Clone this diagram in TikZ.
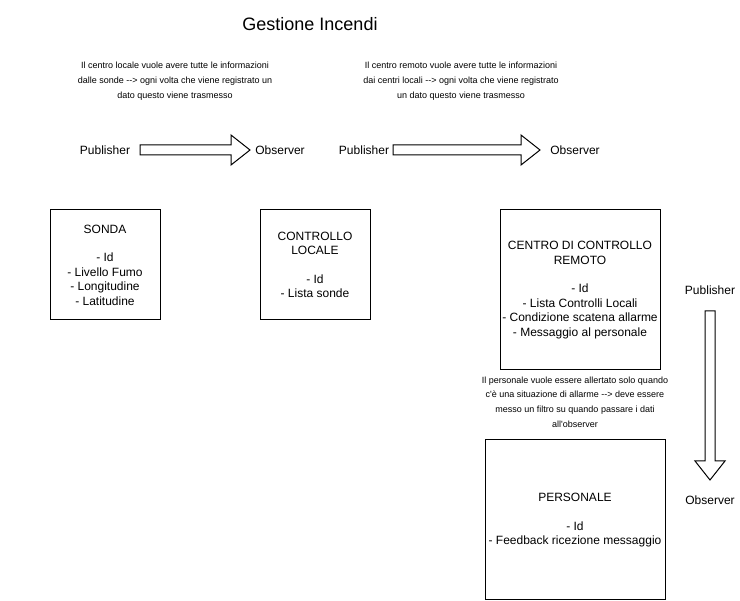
\documentclass[tikz,border=0pt]{standalone}
\usepackage{fontspec}
\setmainfont{Liberation Sans}[Ligatures=TeXOff]
\usetikzlibrary{calc}

\tikzset{
  box/.style={draw,line width=1pt,align=center,inner sep=0pt,font=\fontsize{12}{14.4}\selectfont},
  lbl/.style={inner sep=0pt,font=\fontsize{12}{14.4}\selectfont},
  note/.style={align=center,inner sep=0pt,font=\fontsize{9}{14.8}\selectfont},
  flex/.style={line width=1pt,line join=miter,to path={
    coordinate (fh) at ($(\tikztotarget)!19pt!(\tikztostart)$)
    ($(\tikztostart)!5pt!90:(\tikztotarget)$) -- ($(fh)!5pt!90:(\tikztotarget)$)
    -- ($(fh)!15pt!90:(\tikztotarget)$) -- (\tikztotarget)
    -- ($(fh)!15pt!-90:(\tikztotarget)$) -- ($(fh)!5pt!-90:(\tikztotarget)$)
    -- ($(\tikztostart)!5pt!-90:(\tikztotarget)$) -- cycle}}
}

\begin{document}
\begin{tikzpicture}[x=1pt,y=-1pt]
\useasboundingbox (0,0) rectangle (740,601);
\node[inner sep=0pt,font=\fontsize{18}{21}\selectfont] (title) at (310,24) {Gestione Incendi};

% notes
\node[note] (note1) at (175,81) {Il centro locale vuole avere tutte le informazioni\\dalle sonde --> ogni volta che viene registrato un\\dato questo viene trasmesso};
\node[note] (note2) at (461,81) {Il centro remoto vuole avere tutte le informazioni\\dai centri locali --> ogni volta che viene registrato\\un dato questo viene trasmesso};
\node[note] (note3) at (575,402) {Il personale vuole essere allertato solo quando\\c'è una situazione di allarme --> deve essere\\messo un filtro su quando passare i dati\\all'observer};

% publisher / observer
\node[lbl] (pub1) at (105,150) {Publisher};
\node[lbl] (obs1) at (280,150) {Observer};
\node[lbl] (pub2) at (364,150) {Publisher};
\node[lbl] (obs2) at (575,150) {Observer};
\node[lbl] (pub3) at (710,290) {Publisher};
\node[lbl] (obs3) at (710,500) {Observer};
\coordinate (ar1s) at (140,150);
\coordinate (ar1e) at (250,150);
\coordinate (ar2s) at (393,150);
\coordinate (ar2e) at (540,150);
\coordinate (ar3s) at (710,311);
\coordinate (ar3e) at (710,480);
\draw[flex] (ar1s) to (ar1e);
\draw[flex] (ar2s) to (ar2e);
\draw[flex] (ar3s) to (ar3e);

% entities
\node[box,minimum width=110pt,minimum height=110pt] (sonda) at (105,265)
  {SONDA\\[14.4pt]- Id\\- Livello Fumo\\- Longitudine\\- Latitudine};
\node[box,minimum width=110pt,minimum height=110pt] (locale) at (315,265)
  {CONTROLLO\\LOCALE\\[14.4pt]- Id\\- Lista sonde};
\node[box,minimum width=160pt,minimum height=160pt] (remoto) at (580,290)
  {CENTRO DI CONTROLLO\\REMOTO\\[14.4pt]- Id\\- Lista Controlli Locali\\- Condizione scatena allarme\\- Messaggio al personale};
\node[box,minimum width=180pt,minimum height=160pt] (pers) at (575,520)
  {PERSONALE\\[14.4pt]- Id\\- Feedback ricezione messaggio};
\end{tikzpicture}
\end{document}
